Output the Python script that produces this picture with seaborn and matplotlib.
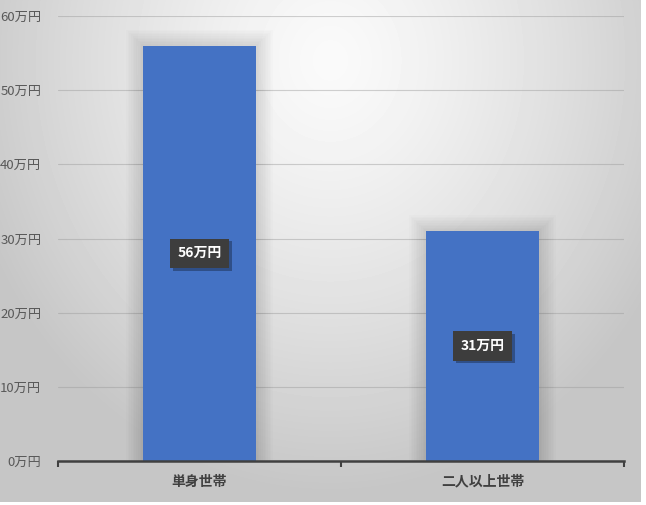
import numpy as np
import matplotlib
matplotlib.use("Agg")
import matplotlib.pyplot as plt
import matplotlib.patheffects as pe
import pandas as pd
import seaborn as sns

# datos del gráfico
categorias = ["単身世帯", "二人以上世帯"]
valores = [56, 31]
yticks = [0, 10, 20, 30, 40, 50, 60]
etiquetas_y = [f"{v}万円" for v in yticks]

sns.set_style("white")
plt.rcParams['font.family'] = ['Noto Sans CJK JP', 'DejaVu Sans']

W, H = 646, 505
fig = plt.figure(figsize=(W / 100, H / 100), dpi=100)
fig.patch.set_facecolor("white")

# fondo con degradado radial
bg = fig.add_axes([0, 3 / H, 641 / W, 502 / H])
yy, xx = np.mgrid[0:502, 0:641]
r = np.sqrt(((xx - 330) / 420.0) ** 2 + ((yy - 60) / 480.0) ** 2)
gris = np.clip(250 - 60 * r ** 1.3, 198, 250) / 255.0
bg.imshow(gris, cmap="gray", vmin=0, vmax=1, aspect="auto", interpolation="bilinear")
bg.axis("off")

ax = fig.add_axes([58 / W, (H - 461) / H, (624 - 58) / W, (461 - 16) / H])
ax.patch.set_alpha(0)

df = pd.DataFrame({"categoria": categorias, "valor": valores})

# sombra suave de las barras
for i, v in enumerate(valores):
    for k in range(1, 11):
        d = k * 0.006
        ax.add_patch(plt.Rectangle((i - 0.2 - d, 0), 0.4 + 2 * d, v + d * 36,
                                   color="black", alpha=0.012, lw=0, zorder=1.5))

sns.barplot(data=df, x="categoria", y="valor", color="#4472C4", saturation=1,
            width=0.4, linewidth=0, edgecolor="none", ax=ax, zorder=3)

ax.set_ylim(0, 60)
ax.set_xlim(-0.5, 1.5)
ax.set_yticks(yticks)
ax.set_yticklabels(etiquetas_y, color="#595959", fontsize=9.5)
ax.grid(axis="y", color="#9a9a9a", alpha=0.45, lw=0.8, zorder=0)
ax.set_axisbelow(True)
ax.set_xlabel("")
ax.set_ylabel("")
ax.tick_params(axis="y", length=0, pad=12)
ax.tick_params(axis="x", which="major", length=0, pad=10)
ax.set_xticks([-0.5, 0.5, 1.5], minor=True)
ax.tick_params(axis="x", which="minor", bottom=True, length=4, width=1.5,
               color="#404040", direction="out")
for lbl in ax.get_xticklabels():
    lbl.set_fontweight("bold")
    lbl.set_color("#404040")
    lbl.set_fontsize(10)

for s in ["top", "right", "left"]:
    ax.spines[s].set_visible(False)
ax.spines["bottom"].set_color("#404040")
ax.spines["bottom"].set_linewidth(1.8)
ax.spines["bottom"].set_zorder(5)

# etiquetas de datos
for i, v in enumerate(valores):
    t = ax.text(i, v / 2, f"{v}万円", ha="center", va="center", color="white",
                fontsize=10, fontweight="bold", zorder=6,
                bbox=dict(boxstyle="square,pad=0.55", fc="#3d3d3d", ec="none"))
    t.get_bbox_patch().set_path_effects([
        pe.SimplePatchShadow(offset=(2, -2), shadow_rgbFace="black", alpha=0.3),
        pe.Normal()])

fig.savefig("out.png", dpi=100)
